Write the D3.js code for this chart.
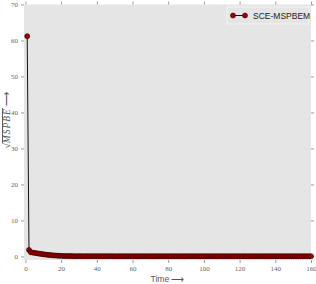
<!DOCTYPE html>
<html>
<head>
<meta charset="utf-8">
<script src="https://cdn.jsdelivr.net/npm/d3@7"></script>
<style>
  body { margin: 0; background: #fff; }
  .tick text { font-family: "Liberation Serif", "DejaVu Serif", serif; font-size: 7px; fill: #666; }
  .tick line { stroke: #999; }
  .domain { display: none; }
</style>
</head>
<body>
<div id="chart"></div>
<script>
// series: time steps 1..160
const times = d3.range(1, 161);
const mspbe = [
  61.2, 1.8, 1.15, 1.05, 0.98, 0.9, 0.82, 0.75, 0.68, 0.6,
  0.53, 0.47, 0.41, 0.36, 0.31, 0.27, 0.23, 0.2, 0.17, 0.15,
  0.13, 0.11, 0.1, 0.09, 0.08, 0.08, 0.07, 0.07, 0.07, 0.07,
  0.07, 0.07, 0.06, 0.06, 0.06, 0.06, 0.06, 0.06, 0.06, 0.06,
  0.06, 0.06, 0.06, 0.06, 0.06, 0.06, 0.06, 0.06, 0.05, 0.05,
  0.05, 0.05, 0.05, 0.05, 0.05, 0.05, 0.05, 0.05, 0.05, 0.05,
  0.05, 0.05, 0.05, 0.05, 0.05, 0.05, 0.05, 0.05, 0.05, 0.05,
  0.05, 0.05, 0.05, 0.05, 0.05, 0.05, 0.05, 0.05, 0.05, 0.05,
  0.05, 0.05, 0.05, 0.05, 0.05, 0.05, 0.05, 0.05, 0.05, 0.05,
  0.05, 0.05, 0.05, 0.05, 0.05, 0.05, 0.05, 0.05, 0.05, 0.05,
  0.05, 0.05, 0.05, 0.05, 0.05, 0.05, 0.05, 0.05, 0.05, 0.05,
  0.05, 0.05, 0.05, 0.05, 0.05, 0.05, 0.05, 0.05, 0.05, 0.05,
  0.05, 0.05, 0.05, 0.05, 0.05, 0.05, 0.05, 0.05, 0.05, 0.05,
  0.05, 0.05, 0.05, 0.05, 0.05, 0.05, 0.05, 0.05, 0.05, 0.05,
  0.05, 0.05, 0.05, 0.05, 0.05, 0.05, 0.05, 0.05, 0.05, 0.05,
  0.05, 0.05, 0.05, 0.05, 0.05, 0.05, 0.05, 0.05, 0.05, 0.05
];
const xTicks = [0, 20, 40, 60, 80, 100, 120, 140, 160];
const yTicks = [0, 10, 20, 30, 40, 50, 60, 70];
const seriesName = "SCE-MSPBEM";

const width = 316, height = 284;
const margin = { top: 4.5, right: 5, bottom: 24, left: 24 };

const svg = d3.select("#chart").append("svg")
  .attr("width", width)
  .attr("height", height);

const x = d3.scaleLinear().domain([-0.8, 160]).range([margin.left, width - margin.right]);
const y = d3.scaleLinear().domain([-1, 70]).range([height - margin.bottom, margin.top]);

// plot background
svg.append("rect")
  .attr("x", margin.left)
  .attr("y", margin.top)
  .attr("width", width - margin.left - margin.right)
  .attr("height", height - margin.top - margin.bottom)
  .attr("fill", "#e5e5e5");

// axes (ticks outside on all four sides)
svg.append("g")
  .attr("transform", "translate(0," + (height - margin.bottom) + ")")
  .call(d3.axisBottom(x).tickValues(xTicks).tickSize(3).tickPadding(3));
svg.append("g")
  .attr("transform", "translate(0," + margin.top + ")")
  .call(d3.axisTop(x).tickValues(xTicks).tickSize(3).tickFormat(""));
svg.append("g")
  .attr("transform", "translate(" + margin.left + ",0)")
  .call(d3.axisLeft(y).tickValues(yTicks).tickSize(3).tickPadding(3));
svg.append("g")
  .attr("transform", "translate(" + (width - margin.right) + ",0)")
  .call(d3.axisRight(y).tickValues(yTicks).tickSize(3).tickFormat(""));

const data = times.map((t, i) => ({ t: t, v: mspbe[i] }));

svg.append("path")
  .datum(data)
  .attr("fill", "none")
  .attr("stroke", "#111")
  .attr("stroke-width", 1)
  .attr("d", d3.line().x(d => x(d.t)).y(d => y(d.v)));

svg.append("g")
  .selectAll("circle")
  .data(data)
  .enter()
  .append("circle")
  .attr("cx", d => x(d.t))
  .attr("cy", d => y(d.v))
  .attr("r", 2.5)
  .attr("fill", "#a00000")
  .attr("stroke", "#2a0000")
  .attr("stroke-width", 0.6);

// legend
const lg = svg.append("g").attr("transform", "translate(227,7)");
lg.append("rect")
  .attr("width", 82).attr("height", 17)
  .attr("fill", "#e5e5e5")
  .attr("stroke", "#f4f4f4")
  .attr("stroke-width", 1);
lg.append("line")
  .attr("x1", 6).attr("x2", 18).attr("y1", 8.5).attr("y2", 8.5)
  .attr("stroke", "#111").attr("stroke-width", 1);
[6, 18].forEach(cx => {
  lg.append("circle")
    .attr("cx", cx).attr("cy", 8.5).attr("r", 2.5)
    .attr("fill", "#a00000").attr("stroke", "#2a0000").attr("stroke-width", 0.6);
});
lg.append("text")
  .attr("x", 26).attr("y", 11.5)
  .attr("font-family", "Liberation Sans, Arial, sans-serif")
  .attr("font-size", 8.5)
  .attr("fill", "#222")
  .text(seriesName);

// axis labels
svg.append("text")
  .attr("x", (margin.left + width - margin.right) / 2)
  .attr("y", 282)
  .attr("text-anchor", "middle")
  .attr("font-family", "Liberation Sans, Arial, sans-serif")
  .attr("font-size", 8.5)
  .attr("fill", "#555")
  .text("Time \u27F6");

const yl = svg.append("text")
  .attr("transform", "translate(10,120) rotate(-90)")
  .attr("text-anchor", "middle")
  .attr("font-family", "Liberation Serif, DejaVu Serif, serif")
  .attr("font-size", 9.5)
  .attr("fill", "#555");
yl.append("tspan").text("\u221A");
yl.append("tspan").attr("font-style", "italic")
  .attr("letter-spacing", 1)
  .attr("text-decoration", "overline").text("MSPBE");
yl.append("tspan").attr("font-family", "Liberation Sans, Arial, sans-serif").text(" \u27F6");
</script>
</body>
</html>
